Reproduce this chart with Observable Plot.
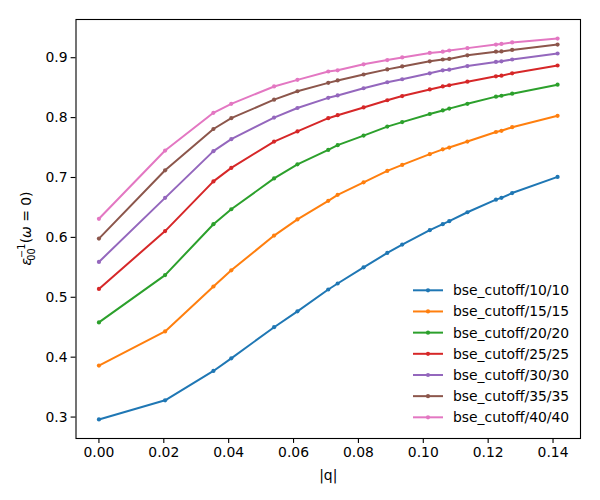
<!DOCTYPE html>
<html>
<head>
<meta charset="utf-8">
<script src="https://cdn.jsdelivr.net/npm/d3@7"></script>
<script src="https://cdn.jsdelivr.net/npm/@observablehq/plot@0.6"></script>
<style>
  html, body { margin: 0; padding: 0; background: white; }
</style>
</head>
<body>
<div id="chart"></div>
<script>
const qValues = [0, 0.0204, 0.0353, 0.0408, 0.0540, 0.0612, 0.0707, 0.0736, 0.0816, 0.0889, 0.0935, 0.1020, 0.1060, 0.1080, 0.1136, 0.1224, 0.1241, 0.1274, 0.1414];

const seriesNames = ["bse_cutoff/10/10", "bse_cutoff/15/15", "bse_cutoff/20/20", "bse_cutoff/25/25", "bse_cutoff/30/30", "bse_cutoff/35/35", "bse_cutoff/40/40"];
const seriesColors = ["#1f77b4", "#ff7f0e", "#2ca02c", "#d62728", "#9467bd", "#8c564b", "#e377c2"];

const cut10 = [0.296, 0.328, 0.377, 0.398, 0.450, 0.4765, 0.513, 0.523, 0.550, 0.574, 0.588, 0.612, 0.622, 0.627, 0.642, 0.663, 0.666, 0.674, 0.701];
const cut15 = [0.386, 0.443, 0.518, 0.545, 0.603, 0.630, 0.661, 0.671, 0.692, 0.711, 0.721, 0.739, 0.747, 0.750, 0.760, 0.776, 0.778, 0.784, 0.803];
const cut20 = [0.458, 0.537, 0.622, 0.647, 0.6985, 0.722, 0.746, 0.754, 0.770, 0.785, 0.7925, 0.806, 0.812, 0.815, 0.823, 0.835, 0.8365, 0.840, 0.855];
const cut25 = [0.514, 0.6105, 0.6935, 0.716, 0.760, 0.777, 0.799, 0.804, 0.817, 0.829, 0.836, 0.847, 0.852, 0.854, 0.860, 0.869, 0.870, 0.874, 0.887];
const cut30 = [0.559, 0.666, 0.744, 0.764, 0.800, 0.816, 0.833, 0.837, 0.849, 0.859, 0.864, 0.874, 0.879, 0.880, 0.886, 0.893, 0.894, 0.897, 0.907];
const cut35 = [0.598, 0.712, 0.781, 0.799, 0.830, 0.844, 0.858, 0.862, 0.872, 0.8805, 0.8855, 0.894, 0.897, 0.898, 0.904, 0.910, 0.9105, 0.913, 0.922];
const cut40 = [0.631, 0.745, 0.808, 0.823, 0.852, 0.863, 0.877, 0.879, 0.889, 0.896, 0.9005, 0.908, 0.910, 0.912, 0.916, 0.922, 0.923, 0.9255, 0.932];

const xTicks = [0, 0.02, 0.04, 0.06, 0.08, 0.10, 0.12, 0.14];
const yTicks = [0.3, 0.4, 0.5, 0.6, 0.7, 0.8, 0.9];

const allSeries = [cut10, cut15, cut20, cut25, cut30, cut35, cut40];
const rows = [];
allSeries.forEach((vals, i) => {
  vals.forEach((v, j) => rows.push({series: seriesNames[i], q: qValues[j], eps: v}));
});

// matplotlib-like 5% margins
const xMin = d3.min(qValues), xMax = d3.max(qValues);
const yMin = d3.min(rows, d => d.eps), yMax = d3.max(rows, d => d.eps);
const xPad = (xMax - xMin) * 0.05, yPad = (yMax - yMin) * 0.05;

const FONT = "DejaVu Sans";
const FS = 13.9;

const plot = Plot.plot({
  width: 600,
  height: 500,
  marginLeft: 75.5,
  marginRight: 20,
  marginTop: 19,
  marginBottom: 62,
  style: {fontFamily: FONT, fontSize: FS + "px", background: "white", color: "black", overflow: "visible"},
  x: {domain: [xMin - xPad, xMax + xPad]},
  y: {domain: [yMin - yPad, yMax + yPad]},
  color: {domain: seriesNames, range: seriesColors},
  marks: [
    Plot.axisX({ticks: xTicks, tickFormat: d3.format(".2f"), tickSize: 4.9, tickPadding: 3.5, strokeWidth: 1.1,
      label: "|q|", labelAnchor: "center", labelArrow: "none", labelOffset: 41, fontSize: FS}),
    Plot.axisY({ticks: yTicks, tickFormat: d3.format(".1f"), tickSize: 4.9, tickPadding: 3.5, strokeWidth: 1.1,
      label: null, fontSize: FS}),
    Plot.line(rows, {x: "q", y: "eps", z: "series", stroke: "series", strokeWidth: 2}),
    Plot.dot(rows, {x: "q", y: "eps", fill: "series", r: 2.1}),
    Plot.frame({stroke: "black", strokeWidth: 1.1})
  ]
});

document.getElementById("chart").appendChild(plot);

const svg = d3.select(plot);

// y-axis label: ε_00^{-1}(ω = 0)
const ylab = svg.append("text")
  .attr("transform", "translate(31,228.5) rotate(-90)")
  .attr("text-anchor", "middle")
  .attr("font-family", FONT)
  .attr("font-size", FS)
  .attr("fill", "black");
ylab.append("tspan").attr("font-style", "italic").text("ε");
ylab.append("tspan").attr("font-size", 9.7).attr("dy", -6).text("−1");
ylab.append("tspan").attr("font-size", 9.7).attr("dx", -17).attr("dy", 10).text("00");
ylab.append("tspan").attr("dy", -4).attr("dx", 5).text("(");
ylab.append("tspan").attr("font-style", "italic").text("ω");
ylab.append("tspan").text(" = 0)");

// legend (lower right, no frame)
const legX0 = 413, legX1 = 443, legTextX = 453, legY0 = 290.3, legStep = 21.17;
const leg = svg.append("g").attr("font-family", FONT).attr("font-size", FS).attr("text-anchor", "start");
seriesNames.forEach((name, i) => {
  const y = legY0 + i * legStep;
  leg.append("line").attr("x1", legX0).attr("x2", legX1).attr("y1", y).attr("y2", y)
    .attr("stroke", seriesColors[i]).attr("stroke-width", 2);
  leg.append("circle").attr("cx", (legX0 + legX1) / 2).attr("cy", y).attr("r", 2.1).attr("fill", seriesColors[i]);
  leg.append("text").attr("x", legTextX).attr("y", y).attr("dy", "0.35em").attr("text-anchor", "start")
    .attr("fill", "black").text(name);
});
</script>
</body>
</html>
